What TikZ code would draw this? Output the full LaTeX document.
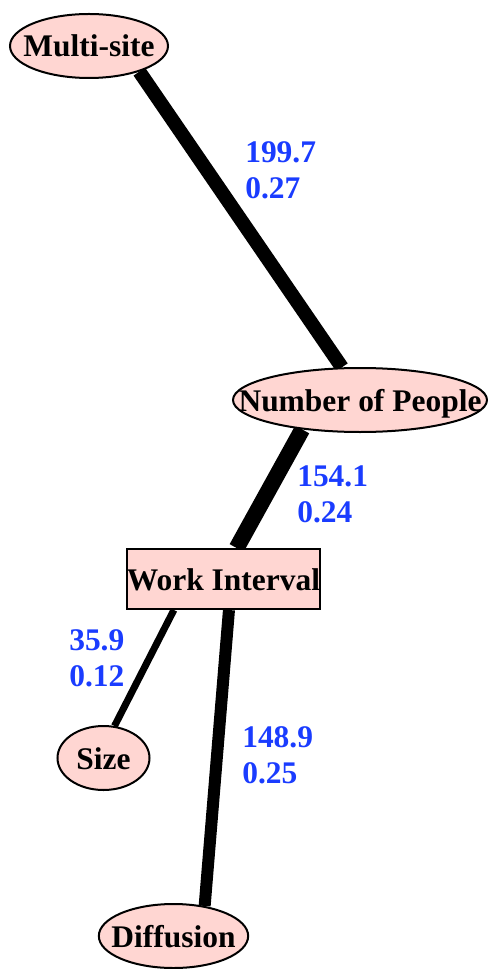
\documentclass[tikz,border=0pt]{standalone}
\usepackage{fontspec}
\setmainfont{Liberation Serif}
\usetikzlibrary{shapes.geometric,backgrounds}

\newcommand{\ctext}[1]{\makebox[0pt]{#1}}

\begin{document}
\begin{tikzpicture}[x=0.75pt,y=-0.75pt,
  font=\fontsize{23.6}{27}\selectfont\bfseries,
  vert/.style={ellipse,draw,line width=1.5pt,fill=nodepink,inner sep=0pt,
    minimum height=48pt,text height=16.5pt,text depth=0pt},
  wt/.style={text=wtblue,align=left,inner sep=0pt,anchor=west},
  link/.style={line width=#1}]
  \definecolor{nodepink}{RGB}{255,214,210}
  \definecolor{wtblue}{RGB}{26,60,255}
  \useasboundingbox (0,0) rectangle (487,969);
  \node[vert,minimum width=118.5pt] (multisite) at (89,46) {\ctext{Multi-site}};
  \node[vert,minimum width=190.5pt] (people) at (360,400) {\ctext{Number of People}};
  \node[draw,line width=1.5pt,fill=nodepink,inner sep=0pt,minimum width=145pt,
    minimum height=45pt,text height=16.5pt,text depth=0pt] (interval) at (223.5,579) {\ctext{Work Interval}};
  \node[vert,minimum width=69pt] (size) at (103.5,758) {\ctext{Size}};
  \node[vert,minimum width=112pt] (diffusion) at (173.5,936) {\ctext{Diffusion}};
  \begin{scope}[on background layer]
    \draw[link=10.5pt] (multisite.-27) -- (people.119);
    \draw[link=12pt] (people.207) -- (interval.67);
    \draw[link=5.25pt] (interval.212) -- (size.71);
    \draw[link=9pt] (interval.-80) -- (diffusion.44);
  \end{scope}
  \node[wt] (w1) at (245,170.5) {199.7\\0.27};
  \node[wt] (w2) at (297,494) {154.1\\0.24};
  \node[wt] (w3) at (69,658) {35.9\\0.12};
  \node[wt] (w4) at (242,755.5) {148.9\\0.25};
\end{tikzpicture}
\end{document}
